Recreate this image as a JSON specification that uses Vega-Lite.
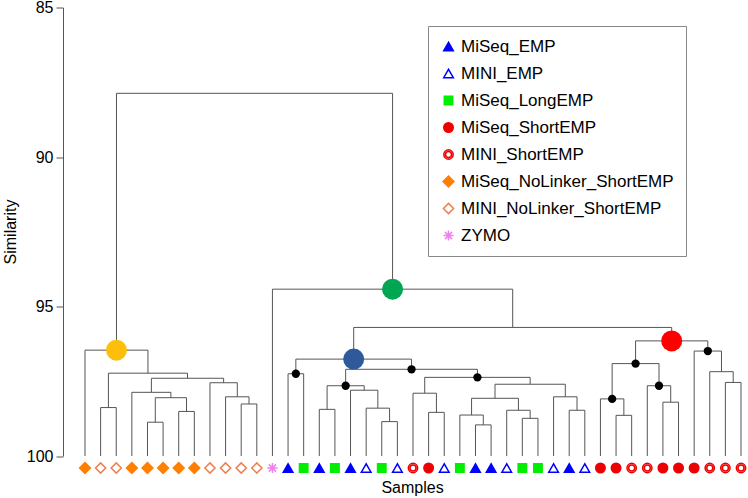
{
  "$schema": "https://vega.github.io/schema/vega-lite/v6.json",
  "width": 685,
  "height": 448.5,
  "autosize": {"type": "none"},
  "padding": {"left": 63, "top": 7.5, "right": 0, "bottom": 42},
  "config": {
    "view": {"stroke": null},
    "font": "Liberation Sans",
    "axisX": {"labels": false, "ticks": false, "domain": false, "grid": false, "titleFont": "Liberation Sans", "titleFontSize": 16, "titleFontWeight": "normal", "titleColor": "black", "titleX": 349, "titleY": 36.7, "titleBaseline": "alphabetic", "titleAlign": "center"},
    "axisY": {"tickCount": 4, "grid": false, "domainColor": "#555", "tickColor": "#555", "tickSize": 7, "labelPadding": 3, "labelFont": "Liberation Sans", "labelFontSize": 16, "labelColor": "black", "titleFont": "Liberation Sans", "titleFontSize": 16, "titleFontWeight": "normal", "titleColor": "black", "titleX": -48, "titleY": 224, "titleAngle": -90, "titleBaseline": "alphabetic", "titleAlign": "center"}
  },
  "datasets": {
    "merges": [
      {"node": "A", "x": 4.5, "h": 98.87, "lx": 4, "lh": 100, "rx": 5, "rh": 100, "marker": "none"},
      {"node": "B", "x": 6.5, "h": 98.51, "lx": 6, "lh": 100, "rx": 7, "rh": 100, "marker": "none"},
      {"node": "C", "x": 5.5, "h": 98.05, "lx": 4.5, "lh": 98.87, "rx": 6.5, "rh": 98.51, "marker": "none"},
      {"node": "D", "x": 4.25, "h": 97.87, "lx": 3, "lh": 100, "rx": 5.5, "rh": 98.05, "marker": "none"},
      {"node": "E", "x": 10.5, "h": 98.26, "lx": 10, "lh": 100, "rx": 11, "rh": 100, "marker": "none"},
      {"node": "F", "x": 9.75, "h": 98.02, "lx": 9, "lh": 100, "rx": 10.5, "rh": 98.26, "marker": "none"},
      {"node": "G", "x": 8.875, "h": 97.55, "lx": 8, "lh": 100, "rx": 9.75, "rh": 98.02, "marker": "none"},
      {"node": "H", "x": 6.5625, "h": 97.40, "lx": 4.25, "lh": 97.87, "rx": 8.875, "rh": 97.55, "marker": "none"},
      {"node": "I", "x": 1.5, "h": 98.38, "lx": 1, "lh": 100, "rx": 2, "rh": 100, "marker": "none"},
      {"node": "J", "x": 4.03125, "h": 97.23, "lx": 1.5, "lh": 98.38, "rx": 6.5625, "rh": 97.40, "marker": "none"},
      {"node": "K", "x": 2.015625, "h": 96.46, "lx": 0, "lh": 100, "rx": 4.03125, "rh": 97.23, "marker": "NoLinker"},
      {"node": "L", "x": 13.5, "h": 97.25, "lx": 13, "lh": 100, "rx": 14, "rh": 100, "marker": "dot"},
      {"node": "M", "x": 19.5, "h": 98.85, "lx": 19, "lh": 100, "rx": 20, "rh": 100, "marker": "none"},
      {"node": "N", "x": 18.75, "h": 98.40, "lx": 18, "lh": 100, "rx": 19.5, "rh": 98.85, "marker": "none"},
      {"node": "O", "x": 17.875, "h": 97.80, "lx": 17, "lh": 100, "rx": 18.75, "rh": 98.40, "marker": "none"},
      {"node": "P", "x": 15.5, "h": 98.44, "lx": 15, "lh": 100, "rx": 16, "rh": 100, "marker": "none"},
      {"node": "Q", "x": 16.6875, "h": 97.65, "lx": 15.5, "lh": 98.44, "rx": 17.875, "rh": 97.80, "marker": "dot"},
      {"node": "R", "x": 22.5, "h": 98.54, "lx": 22, "lh": 100, "rx": 23, "rh": 100, "marker": "none"},
      {"node": "S", "x": 21.75, "h": 97.90, "lx": 21, "lh": 100, "rx": 22.5, "rh": 98.54, "marker": "none"},
      {"node": "T", "x": 25.5, "h": 98.96, "lx": 25, "lh": 100, "rx": 26, "rh": 100, "marker": "none"},
      {"node": "U", "x": 24.75, "h": 98.63, "lx": 24, "lh": 100, "rx": 25.5, "rh": 98.96, "marker": "none"},
      {"node": "V", "x": 28.5, "h": 98.74, "lx": 28, "lh": 100, "rx": 29, "rh": 100, "marker": "none"},
      {"node": "W", "x": 27.75, "h": 98.47, "lx": 27, "lh": 100, "rx": 28.5, "rh": 98.74, "marker": "none"},
      {"node": "X", "x": 26.25, "h": 98.07, "lx": 24.75, "lh": 98.63, "rx": 27.75, "rh": 98.47, "marker": "none"},
      {"node": "Y", "x": 31.5, "h": 98.47, "lx": 31, "lh": 100, "rx": 32, "rh": 100, "marker": "none"},
      {"node": "Z", "x": 30.75, "h": 98.02, "lx": 30, "lh": 100, "rx": 31.5, "rh": 98.47, "marker": "none"},
      {"node": "AA", "x": 28.5, "h": 97.60, "lx": 26.25, "lh": 98.07, "rx": 30.75, "rh": 98.02, "marker": "none"},
      {"node": "AB", "x": 25.125, "h": 97.37, "lx": 21.75, "lh": 97.90, "rx": 28.5, "rh": 97.60, "marker": "dot"},
      {"node": "AC", "x": 20.90625, "h": 97.10, "lx": 16.6875, "lh": 97.65, "rx": 25.125, "rh": 97.37, "marker": "dot"},
      {"node": "AD", "x": 17.203125, "h": 96.76, "lx": 13.5, "lh": 97.25, "rx": 20.90625, "rh": 97.10, "marker": "EMP"},
      {"node": "AE", "x": 34.5, "h": 98.64, "lx": 34, "lh": 100, "rx": 35, "rh": 100, "marker": "none"},
      {"node": "AF", "x": 33.75, "h": 98.09, "lx": 33, "lh": 100, "rx": 34.5, "rh": 98.64, "marker": "dot"},
      {"node": "AG", "x": 37.5, "h": 98.20, "lx": 37, "lh": 100, "rx": 38, "rh": 100, "marker": "none"},
      {"node": "AH", "x": 36.75, "h": 97.65, "lx": 36, "lh": 100, "rx": 37.5, "rh": 98.20, "marker": "dot"},
      {"node": "AI", "x": 35.25, "h": 96.91, "lx": 33.75, "lh": 98.09, "rx": 36.75, "rh": 97.65, "marker": "dot"},
      {"node": "AJ", "x": 41.5, "h": 97.54, "lx": 41, "lh": 100, "rx": 42, "rh": 100, "marker": "none"},
      {"node": "AK", "x": 40.75, "h": 97.18, "lx": 40, "lh": 100, "rx": 41.5, "rh": 97.54, "marker": "none"},
      {"node": "AL", "x": 39.875, "h": 96.49, "lx": 39, "lh": 100, "rx": 40.75, "rh": 97.18, "marker": "dot"},
      {"node": "AM", "x": 37.5625, "h": 96.15, "lx": 35.25, "lh": 96.91, "rx": 39.875, "rh": 96.49, "marker": "ShortEMP"},
      {"node": "AN", "x": 27.3828, "h": 95.70, "lx": 17.203125, "lh": 96.76, "rx": 37.5625, "rh": 96.15, "marker": "none"},
      {"node": "AO", "x": 19.6914, "h": 94.42, "lx": 12, "lh": 100, "rx": 27.3828, "rh": 95.70, "marker": "All"},
      {"node": "Root", "x": 10.8535, "h": 87.87, "lx": 2.015625, "lh": 96.46, "rx": 19.6914, "rh": 94.42, "marker": "none"}
    ],
    "leaves": [
      {"leaf": 0, "type": "MiSeq_NoLinker_ShortEMP", "sim": 100},
      {"leaf": 1, "type": "MINI_NoLinker_ShortEMP", "sim": 100},
      {"leaf": 2, "type": "MINI_NoLinker_ShortEMP", "sim": 100},
      {"leaf": 3, "type": "MiSeq_NoLinker_ShortEMP", "sim": 100},
      {"leaf": 4, "type": "MiSeq_NoLinker_ShortEMP", "sim": 100},
      {"leaf": 5, "type": "MiSeq_NoLinker_ShortEMP", "sim": 100},
      {"leaf": 6, "type": "MiSeq_NoLinker_ShortEMP", "sim": 100},
      {"leaf": 7, "type": "MiSeq_NoLinker_ShortEMP", "sim": 100},
      {"leaf": 8, "type": "MINI_NoLinker_ShortEMP", "sim": 100},
      {"leaf": 9, "type": "MINI_NoLinker_ShortEMP", "sim": 100},
      {"leaf": 10, "type": "MINI_NoLinker_ShortEMP", "sim": 100},
      {"leaf": 11, "type": "MINI_NoLinker_ShortEMP", "sim": 100},
      {"leaf": 12, "type": "ZYMO", "sim": 100},
      {"leaf": 13, "type": "MiSeq_EMP", "sim": 100},
      {"leaf": 14, "type": "MiSeq_LongEMP", "sim": 100},
      {"leaf": 15, "type": "MiSeq_EMP", "sim": 100},
      {"leaf": 16, "type": "MiSeq_LongEMP", "sim": 100},
      {"leaf": 17, "type": "MiSeq_EMP", "sim": 100},
      {"leaf": 18, "type": "MINI_EMP", "sim": 100},
      {"leaf": 19, "type": "MiSeq_LongEMP", "sim": 100},
      {"leaf": 20, "type": "MINI_EMP", "sim": 100},
      {"leaf": 21, "type": "MINI_ShortEMP", "sim": 100},
      {"leaf": 22, "type": "MiSeq_ShortEMP", "sim": 100},
      {"leaf": 23, "type": "MINI_EMP", "sim": 100},
      {"leaf": 24, "type": "MiSeq_LongEMP", "sim": 100},
      {"leaf": 25, "type": "MiSeq_EMP", "sim": 100},
      {"leaf": 26, "type": "MiSeq_EMP", "sim": 100},
      {"leaf": 27, "type": "MINI_EMP", "sim": 100},
      {"leaf": 28, "type": "MiSeq_LongEMP", "sim": 100},
      {"leaf": 29, "type": "MiSeq_LongEMP", "sim": 100},
      {"leaf": 30, "type": "MINI_EMP", "sim": 100},
      {"leaf": 31, "type": "MiSeq_EMP", "sim": 100},
      {"leaf": 32, "type": "MINI_EMP", "sim": 100},
      {"leaf": 33, "type": "MiSeq_ShortEMP", "sim": 100},
      {"leaf": 34, "type": "MiSeq_ShortEMP", "sim": 100},
      {"leaf": 35, "type": "MINI_ShortEMP", "sim": 100},
      {"leaf": 36, "type": "MINI_ShortEMP", "sim": 100},
      {"leaf": 37, "type": "MiSeq_ShortEMP", "sim": 100},
      {"leaf": 38, "type": "MiSeq_ShortEMP", "sim": 100},
      {"leaf": 39, "type": "MiSeq_ShortEMP", "sim": 100},
      {"leaf": 40, "type": "MINI_ShortEMP", "sim": 100},
      {"leaf": 41, "type": "MINI_ShortEMP", "sim": 100},
      {"leaf": 42, "type": "MINI_ShortEMP", "sim": 100}
    ]
  },
  "layer": [
    {
      "data": {"name": "merges"},
      "mark": {"type": "rule", "color": "#555", "strokeWidth": 1},
      "encoding": {
        "x": {"field": "lx", "type": "quantitative", "title": "Samples", "scale": {"domain": [-1.4086, 42.448], "nice": false, "zero": false}},
        "x2": {"field": "rx"},
        "y": {"field": "h", "type": "quantitative", "title": "Similarity", "scale": {"domain": [85, 100], "reverse": true, "nice": false, "zero": false}}
      }
    },
    {
      "data": {"name": "merges"},
      "mark": {"type": "rule", "color": "#555", "strokeWidth": 1},
      "encoding": {
        "x": {"field": "lx", "type": "quantitative", "title": "Samples", "scale": {"domain": [-1.4086, 42.448], "nice": false, "zero": false}},
        "y": {"field": "h", "type": "quantitative", "title": "Similarity", "scale": {"domain": [85, 100], "reverse": true, "nice": false, "zero": false}},
        "y2": {"field": "lh"}
      }
    },
    {
      "data": {"name": "merges"},
      "mark": {"type": "rule", "color": "#555", "strokeWidth": 1},
      "encoding": {
        "x": {"field": "rx", "type": "quantitative", "title": "Samples", "scale": {"domain": [-1.4086, 42.448], "nice": false, "zero": false}},
        "y": {"field": "h", "type": "quantitative", "title": "Similarity", "scale": {"domain": [85, 100], "reverse": true, "nice": false, "zero": false}},
        "y2": {"field": "rh"}
      }
    },
    {
      "data": {"name": "merges"},
      "transform": [{"filter": "datum.marker !== 'none' && datum.marker !== 'dot'"}],
      "mark": {"type": "point", "shape": "circle", "filled": true, "size": 441, "opacity": 1},
      "encoding": {
        "x": {"field": "x", "type": "quantitative", "title": "Samples", "scale": {"domain": [-1.4086, 42.448], "nice": false, "zero": false}},
        "y": {"field": "h", "type": "quantitative", "title": "Similarity", "scale": {"domain": [85, 100], "reverse": true, "nice": false, "zero": false}},
        "color": {"field": "marker", "type": "nominal", "legend": null, "scale": {"domain": ["NoLinker", "All", "EMP", "ShortEMP"], "range": ["#FDBE0C", "#00A651", "#2E5A9C", "#FF0000"]}}
      }
    },
    {
      "data": {"name": "merges"},
      "transform": [{"filter": "datum.marker === 'dot'"}],
      "mark": {"type": "point", "shape": "circle", "filled": true, "size": 69, "opacity": 1, "color": "#000000"},
      "encoding": {
        "x": {"field": "x", "type": "quantitative", "title": "Samples", "scale": {"domain": [-1.4086, 42.448], "nice": false, "zero": false}},
        "y": {"field": "h", "type": "quantitative", "title": "Similarity", "scale": {"domain": [85, 100], "reverse": true, "nice": false, "zero": false}}
      }
    },
    {
      "data": {"name": "leaves"},
      "mark": {"type": "point", "size": 144, "strokeWidth": 1.5, "opacity": 1, "yOffset": 12},
      "encoding": {
        "x": {"field": "leaf", "type": "quantitative", "title": "Samples", "scale": {"domain": [-1.4086, 42.448], "nice": false, "zero": false}},
        "y": {"field": "sim", "type": "quantitative", "title": "Similarity", "scale": {"domain": [85, 100], "reverse": true, "nice": false, "zero": false}},
        "shape": {"field": "type", "type": "nominal",
          "scale": {"domain": ["MiSeq_EMP", "MINI_EMP", "MiSeq_LongEMP", "MiSeq_ShortEMP", "MINI_ShortEMP", "MiSeq_NoLinker_ShortEMP", "MINI_NoLinker_ShortEMP", "ZYMO"],
            "range": ["M0,-0.69L-0.8,0.69L0.8,0.69Z", "M0,-0.69L-0.8,0.69L0.8,0.69Z", "M-0.7,-0.7H0.7V0.7H-0.7Z", "M0.79,0A0.79,0.79 0 1,1 -0.79,0A0.79,0.79 0 1,1 0.79,0Z", "M0.78,0A0.78,0.78 0 1,1 -0.78,0A0.78,0.78 0 1,1 0.78,0ZM0.5,0A0.5,0.5 0 1,1 -0.5,0A0.5,0.5 0 1,1 0.5,0Z", "M0,-0.9L0.9,0L0,0.9L-0.9,0Z", "M0,-0.85L0.85,0L0,0.85L-0.85,0Z", "M0,-0.85V0.85M-0.85,0H0.85M-0.6,-0.6L0.6,0.6M-0.6,0.6L0.6,-0.6"]},
          "legend": {"title": null, "orient": "none", "legendX": 365, "legendY": 18.5, "padding": 12, "strokeColor": "#888", "fillColor": "white", "labelFont": "Arial", "labelFontSize": 17, "labelColor": "black", "labelLimit": 400, "labelOffset": 4, "rowPadding": 9, "symbolSize": 144, "symbolStrokeWidth": 1.5, "symbolOpacity": 1}},
        "fill": {"field": "type", "type": "nominal",
          "scale": {"domain": ["MiSeq_EMP", "MINI_EMP", "MiSeq_LongEMP", "MiSeq_ShortEMP", "MINI_ShortEMP", "MiSeq_NoLinker_ShortEMP", "MINI_NoLinker_ShortEMP", "ZYMO"],
            "range": ["#0000FF", "white", "#00EE00", "#EE0000", "white", "#FF7F00", "white", "transparent"]},
          "legend": {"title": null, "orient": "none", "legendX": 365, "legendY": 18.5, "padding": 12, "strokeColor": "#888", "fillColor": "white", "labelFont": "Arial", "labelFontSize": 17, "labelColor": "black", "labelLimit": 400, "labelOffset": 4, "rowPadding": 9, "symbolSize": 144, "symbolStrokeWidth": 1.5, "symbolOpacity": 1}},
        "stroke": {"field": "type", "type": "nominal",
          "scale": {"domain": ["MiSeq_EMP", "MINI_EMP", "MiSeq_LongEMP", "MiSeq_ShortEMP", "MINI_ShortEMP", "MiSeq_NoLinker_ShortEMP", "MINI_NoLinker_ShortEMP", "ZYMO"],
            "range": ["#0000FF", "#0000FF", "#00EE00", "#EE0000", "#EE0000", "#FF7F00", "#EE7F4F", "#EE82EE"]},
          "legend": {"title": null, "orient": "none", "legendX": 365, "legendY": 18.5, "padding": 12, "strokeColor": "#888", "fillColor": "white", "labelFont": "Arial", "labelFontSize": 17, "labelColor": "black", "labelLimit": 400, "labelOffset": 4, "rowPadding": 9, "symbolSize": 144, "symbolStrokeWidth": 1.5, "symbolOpacity": 1}}
      }
    }
  ]
}
